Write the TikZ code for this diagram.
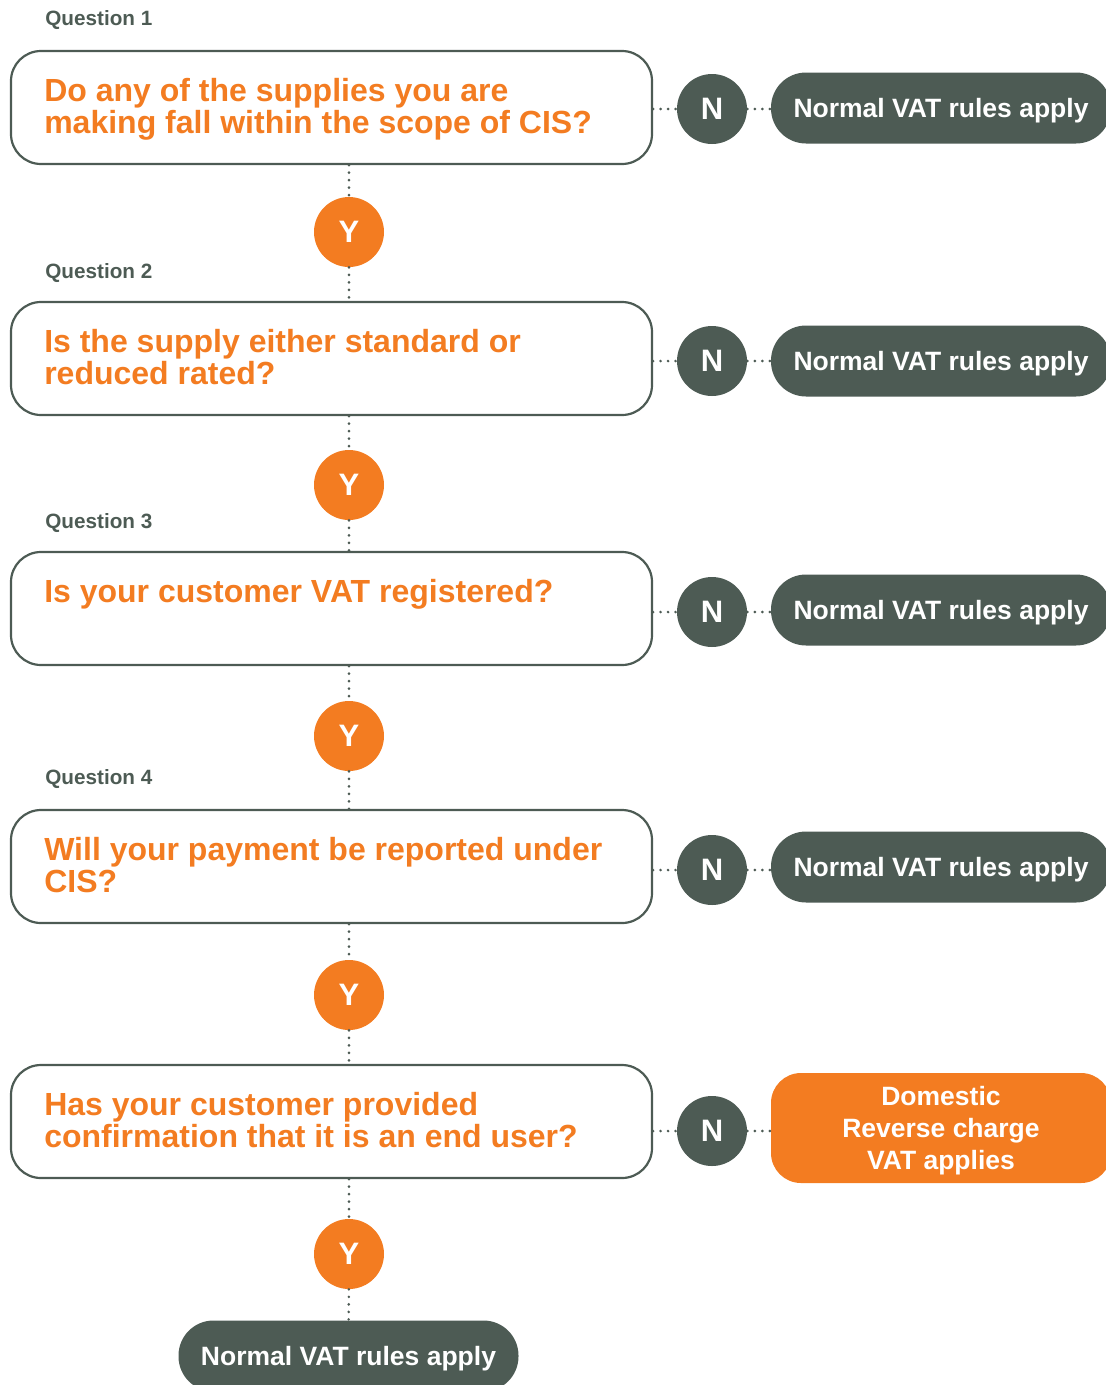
\documentclass[tikz,border=0pt]{standalone}
\usepackage{fontspec}
\setmainfont{Liberation Sans}
\usetikzlibrary{calc}
\definecolor{vatorange}{RGB}{243,124,33}
\definecolor{vatgrey}{RGB}{77,91,84}
\tikzset{every picture/.style={line width=0.75pt}}
\tikzset{
  qbox/.style={draw=vatgrey, line width=2.2pt, rounded corners=30pt, minimum width=641pt, minimum height=113pt, inner sep=0pt},
  qtext/.style={text=vatorange, font=\fontsize{32}{32}\selectfont\bfseries, align=left, inner sep=0pt, anchor=north west},
  qlabel/.style={text=vatgrey, font=\fontsize{20.7}{24}\selectfont\bfseries, inner sep=0pt, anchor=west},
  yes/.style={circle, fill=vatorange, minimum size=70pt, inner sep=0pt, text=white, font=\fontsize{31}{31}\selectfont\bfseries},
  no/.style={yes, fill=vatgrey},
  rulebox/.style={fill=vatgrey, rounded corners=35pt, minimum width=340pt, minimum height=71pt, inner sep=0pt, text depth=0pt, text=white, font=\fontsize{26.5}{32}\selectfont\bfseries},
  revbox/.style={rulebox, fill=vatorange, rounded corners=30pt, minimum height=110pt, align=center},
  dots/.style={draw=vatgrey, line width=2.8pt, line cap=round, dash pattern=on 0pt off 7.5pt},
}

\begin{document}
\begin{tikzpicture}[x=1pt,y=1pt,yscale=-1,xscale=1]
\useasboundingbox (0,0) rectangle (1106,1385);
\clip (0,0) rectangle (1106,1385);

% Question boxes
\node[qbox] (q1) at (331.5,107.5) {};
\node[qbox] (q2) at (331.5,358.5) {};
\node[qbox] (q3) at (331.5,608.5) {};
\node[qbox] (q4) at (331.5,866.5) {};
\node[qbox] (q5) at (331.5,1121.5) {};

% Text Node
\node[qlabel] (l1) at (45,20.5) {Question 1};
\node[qlabel] (l2) at (45,273.5) {Question 2};
\node[qlabel] (l3) at (45,523.5) {Question 3};
\node[qlabel] (l4) at (45,779.5) {Question 4};

% Text Node
\node[qtext] (t1) at ($(q1.north west)+(34,28)$) {Do any of the supplies you are\\making fall within the scope of CIS?};
\node[qtext] (t2) at ($(q2.north west)+(34,28)$) {Is the supply either standard or\\reduced rated?};
\node[qtext] (t3) at ($(q3.north west)+(34,28)$) {Is your customer VAT registered?};
\node[qtext] (t4) at ($(q4.north west)+(34,28)$) {Will your payment be reported under\\CIS?};
\node[qtext] (t5) at ($(q5.north west)+(34,28)$) {Has your customer provided\\confirmation that it is an end user?};

%Flowchart: Connector
\node[yes] (y1) at (349,232) {Y};
\node[yes] (y2) at (349,485) {Y};
\node[yes] (y3) at (349,736) {Y};
\node[yes] (y4) at (349,995) {Y};
\node[yes] (y5) at (349,1254) {Y};

%Flowchart: Connector
\node[no] (n1) at (712,109) {N};
\node[no] (n2) at (712,361) {N};
\node[no] (n3) at (712,612) {N};
\node[no] (n4) at (712,870) {N};
\node[no] (n5) at (712,1131) {N};

% Outcomes
\node[rulebox] (r1) at (941,108) {Normal VAT rules apply};
\node[rulebox] (r2) at (941,361) {Normal VAT rules apply};
\node[rulebox] (r3) at (941,610) {Normal VAT rules apply};
\node[rulebox] (r4) at (941,867) {Normal VAT rules apply};
\node[revbox] (r5) at (941,1128) {Domestic\\Reverse charge\\VAT applies};
\node[rulebox] (r6) at (348.5,1356) {Normal VAT rules apply};

%Straight Lines
\draw[dots] (q1.east |- n1) -- (n1);
\draw[dots] (n1) -- (r1.west |- n1);
\draw[dots] (q2.east |- n2) -- (n2);
\draw[dots] (n2) -- (r2.west |- n2);
\draw[dots] (q3.east |- n3) -- (n3);
\draw[dots] (n3) -- (r3.west |- n3);
\draw[dots] (q4.east |- n4) -- (n4);
\draw[dots] (n4) -- (r4.west |- n4);
\draw[dots] (q5.east |- n5) -- (n5);
\draw[dots] (n5) -- (r5.west |- n5);

%Straight Lines
\draw[dots] (y1 |- q1.south) -- (y1);
\draw[dots] (y1) -- (y1 |- q2.north);
\draw[dots] (y2 |- q2.south) -- (y2);
\draw[dots] (y2) -- (y2 |- q3.north);
\draw[dots] (y3 |- q3.south) -- (y3);
\draw[dots] (y3) -- (y3 |- q4.north);
\draw[dots] (y4 |- q4.south) -- (y4);
\draw[dots] (y4) -- (y4 |- q5.north);
\draw[dots] (y5 |- q5.south) -- (y5);
\draw[dots] (y5) -- (r6);

\end{tikzpicture}
\end{document}
